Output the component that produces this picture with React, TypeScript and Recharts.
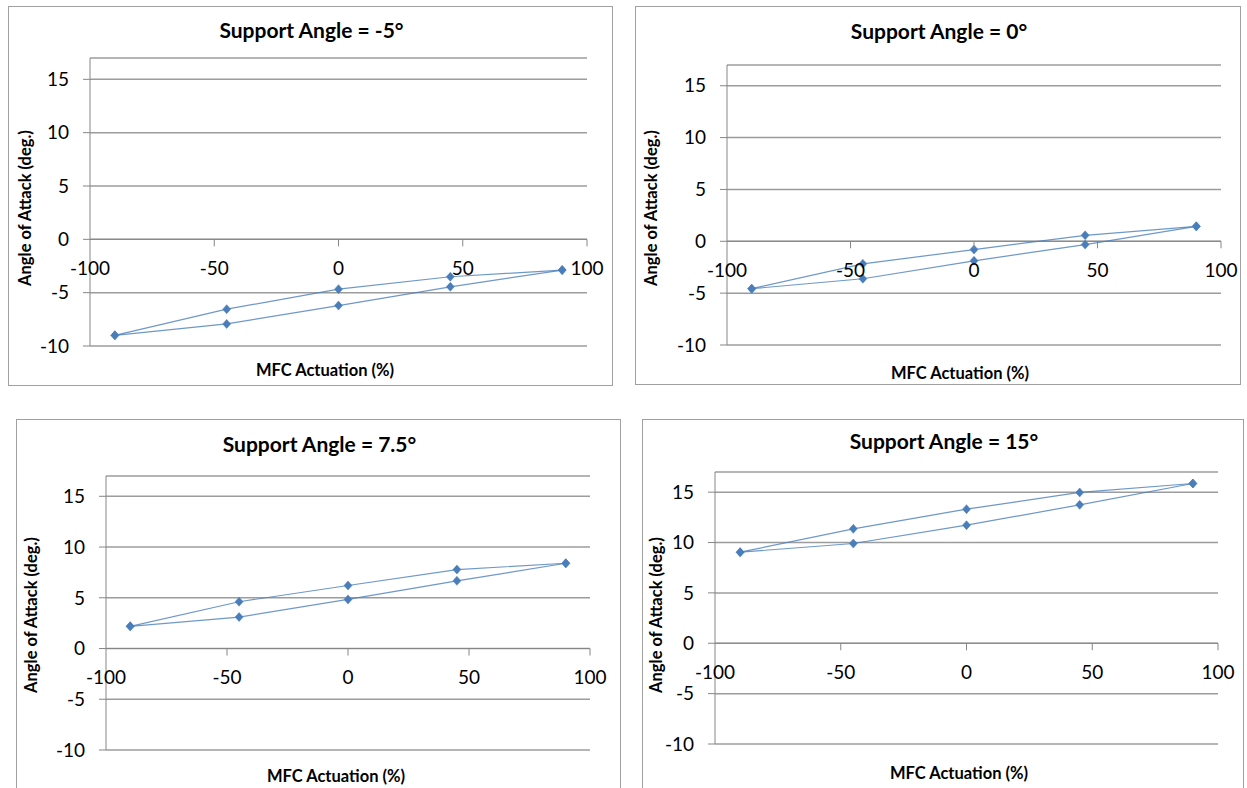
import { CartesianGrid, Line, LineChart, ReferenceLine, XAxis, YAxis } from "recharts";

// MFC actuation levels (%)
const actuation = [-90, -45, 0, 45, 90];
const xTicks = [-100, -50, 0, 50, 100];
const yTicks = [-10, -5, 0, 5, 10, 15];
const yDomain: [number, number] = [-10, 17];

// angle of attack (deg.), upper and lower branch of each loop
const upperM5 = [-9.0, -6.55, -4.67, -3.51, -2.88];
const lowerM5 = [-9.0, -7.93, -6.21, -4.45, -2.88];
const upper0 = [-4.57, -2.17, -0.8, 0.58, 1.44];
const lower0 = [-4.57, -3.61, -1.88, -0.32, 1.44];
const upper75 = [2.19, 4.61, 6.21, 7.78, 8.4];
const lower75 = [2.19, 3.1, 4.84, 6.67, 8.4];
const upper15 = [9.04, 11.36, 13.31, 14.97, 15.86];
const lower15 = [9.04, 9.9, 11.72, 13.74, 15.86];

const titles = ["Support Angle = -5°", "Support Angle = 0°", "Support Angle = 7.5°", "Support Angle = 15°"];

const AXIS = "#868686";
const GRID = "#9c9c9c";
const SERIES = "#4A7EBB";
const FONT = "Lato, 'Open Sans', sans-serif";

type Layout = {
  left: number;
  top: number;
  width: number;
  height: number;
  pl: number; // plot left
  pr: number; // right margin
  pt: number; // plot top
  pb: number; // bottom margin
  titleY: number;
  xTitleX: number;
  xTitleY: number;
  yTitleX: number;
  yTitleY: number;
};

const layouts: Layout[] = [
  { left: 8, top: 6, width: 605, height: 380, pl: 82, pr: 26, pt: 52, pb: 40, titleY: 23, xTitleX: 316, xTitleY: 363, yTitleX: 16, yTitleY: 201 },
  { left: 635, top: 6, width: 606, height: 379, pl: 92, pr: 20, pt: 59, pb: 40, titleY: 24, xTitleX: 324, xTitleY: 366, yTitleX: 15, yTitleY: 201 },
  { left: 16, top: 419, width: 605, height: 374, pl: 90, pr: 31, pt: 57, pb: 43, titleY: 24, xTitleX: 319, xTitleY: 356, yTitleX: 14, yTitleY: 195 },
  { left: 642, top: 419, width: 602, height: 374, pl: 73, pr: 26, pt: 53, pb: 49, titleY: 21, xTitleX: 316, xTitleY: 353, yTitleX: 13, yTitleY: 195 },
];

const Diamond = (props: any) => {
  const { cx, cy } = props;
  if (cx == null || cy == null) return null;
  return (
    <path
      d={`M${cx},${cy - 4.5}L${cx + 4},${cy}L${cx},${cy + 4.5}L${cx - 4},${cy}Z`}
      fill={SERIES}
      stroke={SERIES}
      strokeWidth={0.5}
    />
  );
};

// x axis crosses at y = 0, so the ticks are drawn up from the bottom of the plot
const ZeroTick = (props: any) => {
  const { x, y, payload, shift } = props;
  const y0 = y - shift;
  return (
    <g>
      {payload.value !== -100 && <line x1={x} y1={y0} x2={x} y2={y0 + 7} stroke={AXIS} />}
      <text x={x} y={y0 + 29} dy="0.35em" textAnchor="middle" fill="#000" fontSize={19}>
        {payload.value}
      </text>
    </g>
  );
};

function Panel({ title, upper, lower, l }: { title: string; upper: number[]; lower: number[]; l: Layout }) {
  const rows = actuation.map((x, i) => ({ x, upper: upper[i], lower: lower[i] }));
  const plotH = l.height - l.pt - l.pb;
  const shift = (plotH * (0 - yDomain[0])) / (yDomain[1] - yDomain[0]);

  return (
    <div
      style={{
        position: "absolute",
        left: l.left,
        top: l.top,
        width: l.width,
        height: l.height,
        border: "1px solid #a0a0a0",
        boxSizing: "border-box",
        background: "#fff",
      }}
    >
      <div
        style={{
          position: "absolute",
          left: 0,
          width: l.width,
          top: l.titleY - 13,
          textAlign: "center",
          fontWeight: 700,
          fontSize: 21,
          lineHeight: "26px",
        }}
      >
        {title}
      </div>
      <div style={{ position: "absolute", left: -1, top: -1 }}>
        <LineChart width={l.width} height={l.height} data={rows} margin={{ top: l.pt, right: l.pr, left: 0, bottom: 0 }}>
          <CartesianGrid vertical={false} stroke={GRID} strokeWidth={1.5} />
          <XAxis
            type="number"
            dataKey="x"
            domain={[-100, 100]}
            ticks={xTicks}
            axisLine={false}
            tickLine={false}
            tickSize={0}
            tickMargin={0}
            height={l.pb}
            interval={0}
            tick={(p: any) => <ZeroTick {...p} shift={shift} />}
          />
          <YAxis
            type="number"
            domain={yDomain}
            ticks={yTicks}
            allowDataOverflow
            width={l.pl}
            interval={0}
            tickSize={7}
            tickMargin={14}
            axisLine={{ stroke: AXIS }}
            tickLine={{ stroke: AXIS }}
            tick={{ fill: "#000", fontSize: 19 }}
          />
          <ReferenceLine y={0} stroke={AXIS} />
          <Line dataKey="upper" stroke={SERIES} strokeOpacity={0.8} strokeWidth={1.2} dot={<Diamond />} isAnimationActive={false} />
          <Line dataKey="lower" stroke={SERIES} strokeOpacity={0.8} strokeWidth={1.2} dot={<Diamond />} isAnimationActive={false} />
        </LineChart>
      </div>
      <div
        style={{
          position: "absolute",
          left: l.xTitleX - 100,
          width: 200,
          top: l.xTitleY - 10,
          textAlign: "center",
          fontWeight: 700,
          fontSize: 16.5,
          lineHeight: "20px",
        }}
      >
        MFC Actuation (%)
      </div>
      <div
        style={{
          position: "absolute",
          left: l.yTitleX - 100,
          width: 200,
          top: l.yTitleY - 10,
          textAlign: "center",
          fontWeight: 700,
          fontSize: 16.5,
          lineHeight: "20px",
          transform: "rotate(-90deg)",
        }}
      >
        Angle of Attack (deg.)
      </div>
    </div>
  );
}

export default function App() {
  const sets = [
    [upperM5, lowerM5],
    [upper0, lower0],
    [upper75, lower75],
    [upper15, lower15],
  ];
  return (
    <div
      style={{
        position: "absolute",
        left: 0,
        top: 0,
        width: 1247,
        height: 788,
        overflow: "hidden",
        background: "#fff",
        fontFamily: FONT,
        color: "#000",
      }}
    >
      {sets.map(([u, lo], i) => (
        <Panel key={titles[i]} title={titles[i]} upper={u} lower={lo} l={layouts[i]} />
      ))}
    </div>
  );
}
